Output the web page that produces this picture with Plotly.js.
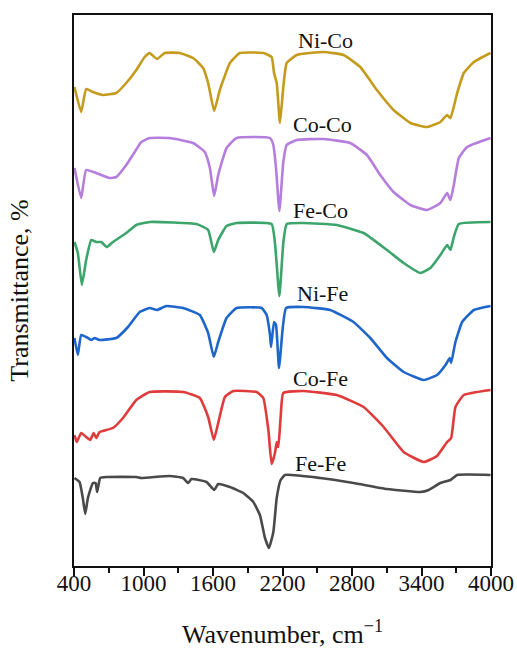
<!DOCTYPE html>
<html>
<head>
<meta charset="utf-8">
<script src="https://cdn.plot.ly/plotly-3.0.1.min.js"></script>
<style>html,body{margin:0;padding:0;background:#fff;}#chart{width:517px;height:657px;}</style>
</head>
<body>
<div id="chart"></div>
<script>
// Wavenumber (cm^-1) and stacked transmittance (arbitrary offset units)
const niCoX = [404,462,505,563,650,765,851,938,1010,1053,1117,1183,1313,1428,1515,1558,1610,1659,1746,1832,2034,2106,2127,2150,2178,2207,2236,2323,2554,2727,2871,3015,3159,3304,3448,3563,3621,3650,3708,3765,3852,3996];
const niCoY = [479,454,477,474,471,473,483,496,509,513,507,513,513,508,498,483,455,476,503,513,513,509,493,483,443,479,503,511,514,511,499,476,456,443,439,444,451,448,473,493,504,513];

const coCoX = [404,462,505,592,707,765,851,924,981,1053,1226,1428,1529,1573,1610,1645,1717,1804,2092,2121,2144,2173,2207,2236,2323,2554,2784,2929,3044,3159,3304,3448,3563,3621,3650,3679,3722,3794,3996];
const coCoY = [398,368,396,393,388,389,401,414,424,428,428,423,414,398,370,391,418,428,428,421,398,355,404,421,426,427,423,411,391,374,361,356,363,373,366,381,408,419,428];

const feCoX = [404,433,468,505,549,592,635,684,736,851,938,1053,1457,1558,1607,1645,1717,1804,2106,2135,2173,2207,2236,2381,2669,2900,3102,3246,3390,3477,3563,3621,3650,3679,3722,3996];
const feCoY = [324,313,281,306,326,324,324,319,324,333,341,344,342,336,314,326,340,343,342,323,270,323,342,343,341,333,316,303,293,298,311,321,316,329,342,344];

const niFeX = [404,433,462,505,549,577,621,765,866,967,1053,1117,1198,1342,1486,1558,1607,1645,1717,1804,2020,2063,2092,2101,2127,2144,2170,2202,2231,2381,2611,2813,2958,3102,3246,3419,3534,3607,3644,3656,3693,3751,3852,3996];
const niFeY = [228,211,231,229,226,228,226,228,239,254,258,256,260,258,251,233,209,224,248,258,258,251,231,219,244,241,198,238,258,259,256,244,228,208,194,186,191,201,208,203,224,244,256,260];

const coFeX = [404,424,462,505,540,569,592,621,736,823,938,1053,1342,1486,1558,1607,1645,1703,1775,1977,2034,2078,2106,2135,2150,2164,2184,2207,2381,2669,2900,3073,3246,3419,3534,3621,3656,3693,3765,3996];
const coFeY = [131,124,133,129,126,133,128,134,138,148,166,174,174,168,149,126,143,169,175,174,168,136,102,113,124,119,149,173,175,171,159,139,114,104,110,124,128,159,171,176];

const feFeX = [404,448,476,497,520,563,586,600,626,678,938,981,1226,1342,1385,1414,1544,1610,1645,1746,1861,1948,2005,2049,2083,2121,2150,2184,2222,2525,2813,3102,3390,3462,3563,3650,3708,3996];
const feFeY = [88,84,68,52,68,83,83,74,88,89,89,88,90,88,83,87,84,76,82,79,73,64,51,28,18,34,68,86,91,88,83,77,74,76,83,86,91,91];

const names = ['Ni-Co','Co-Co','Fe-Co','Ni-Fe','Co-Fe','Fe-Fe'];
const labelX = [2568,2542,2525,2542,2530,2525];
const labelY = [526,442,356,273,188,103];
const tickVals = [400,1000,1600,2200,2800,3400,4000];

const xs = [niCoX, coCoX, feCoX, niFeX, coFeX, feFeX];
const ys = [niCoY, coCoY, feCoY, niFeY, coFeY, feFeY];
const colors = ['#C59B1E','#B57EDC','#3DA56C','#1F66CA','#E03B3B','#4A4A4A'];

const FONT = 'Liberation Serif, serif';

const traces = names.map((n,i)=>({
  x: xs[i], y: ys[i], name: n, type:'scatter', mode:'lines',
  line:{color:colors[i], width:2.6, shape:'spline', smoothing:0.4},
  showlegend:false, hoverinfo:'skip'
}));

const annotations = names.map((n,i)=>({
  x: labelX[i], y: labelY[i], text: n, showarrow:false,
  xanchor:'center', yanchor:'middle',
  font:{family:FONT, size:22, color:'#111'}
}));

const layout = {
  width:517, height:657,
  margin:{l:74, r:26, t:15, b:91},
  paper_bgcolor:'#fff', plot_bgcolor:'#fff',
  font:{family:FONT, size:22, color:'#111'},
  xaxis:{
    range:[400,4000], tickvals:tickVals, ticktext:tickVals.map(String),
    ticks:'outside', ticklen:8, tickwidth:2, tickcolor:'#111',
    ticklabelstandoff:-13,
    minor:{dtick:300, tick0:400, ticks:'outside', ticklen:5, tickwidth:2, tickcolor:'#111'},
    showline:true, mirror:true, linewidth:2, linecolor:'#111',
    showgrid:false, zeroline:false,
    tickfont:{family:FONT, size:23, color:'#111'},
    title:{text:'Wavenumber, cm<sup>−1</sup>', standoff:30, font:{family:FONT, size:26, color:'#111'}}
  },
  yaxis:{
    range:[0,551], showticklabels:false, ticks:'',
    showline:true, mirror:true, linewidth:2, linecolor:'#111',
    showgrid:false, zeroline:false,
    title:{text:'Transmittance, %', standoff:36, font:{family:FONT, size:26, color:'#111'}}
  },
  annotations: annotations
};

Plotly.newPlot('chart', traces, layout, {displayModeBar:false, staticPlot:true});
</script>
</body>
</html>
